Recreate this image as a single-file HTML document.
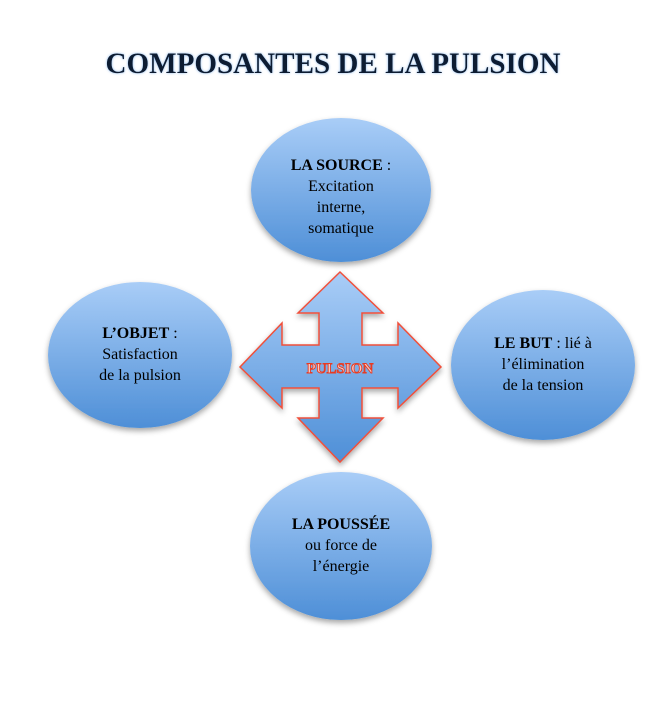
<!DOCTYPE html>
<html><head><style>
body{margin:0;background:#fff;}
svg text{font-family:"Liberation Serif",serif;}
</style></head><body>
<svg width="665" height="714" viewBox="0 0 665 714" xmlns="http://www.w3.org/2000/svg">
<defs>
<linearGradient id="g" x1="0" y1="0" x2="0" y2="1">
<stop offset="0" stop-color="#a9cdf7"/><stop offset="1" stop-color="#4e8fd7"/></linearGradient>
<filter id="s" x="-20%" y="-20%" width="140%" height="140%"><feDropShadow dx="0" dy="3" stdDeviation="3" flood-color="#000" flood-opacity="0.35"/></filter>
<filter id="t"><feDropShadow dx="0" dy="0" stdDeviation="1.2" flood-color="#7aaee8" flood-opacity="0.9"/></filter>
</defs>
<text x="333" y="73" text-anchor="middle" font-size="30" font-weight="bold" fill="#0b1a33" filter="url(#t)" textLength="455" lengthAdjust="spacingAndGlyphs">COMPOSANTES DE LA PULSION</text>
<g filter="url(#s)" fill="url(#g)">
<ellipse cx="341" cy="190" rx="90" ry="72"/>
<ellipse cx="140" cy="355" rx="92" ry="73"/>
<ellipse cx="543" cy="365" rx="92" ry="75"/>
<ellipse cx="341" cy="546" rx="91" ry="74"/>
</g>
<path d="M340 272 L383 313 L362 313 L362 345 L398 345 L398 323 L441 367 L398 408 L398 388 L362 388 L362 418 L383 418 L340 462 L298 418 L319 418 L319 388 L282 388 L282 408 L240 367 L282 323 L282 345 L319 345 L319 313 L298 313 Z" fill="url(#g)" stroke="#f0503a" stroke-width="1.5" filter="url(#s)"/>
<text x="340" y="373" text-anchor="middle" font-size="15" font-weight="bold" fill="#f8c8c0" stroke="#e83a22" stroke-width="0.9">PULSION</text>
<g font-size="16" fill="#000" text-anchor="middle">
<text x="341" y="170"><tspan font-weight="bold">LA SOURCE</tspan> :</text>
<text x="341" y="191">Excitation</text>
<text x="341" y="212">interne,</text>
<text x="341" y="233">somatique</text>
<text x="140" y="338"><tspan font-weight="bold">L’OBJET</tspan> :</text>
<text x="140" y="359">Satisfaction</text>
<text x="140" y="380">de la pulsion</text>
<text x="543" y="348"><tspan font-weight="bold">LE BUT</tspan> : lié à</text>
<text x="543" y="369">l’élimination</text>
<text x="543" y="390">de la tension</text>
<text x="341" y="529" font-weight="bold">LA POUSSÉE</text>
<text x="341" y="550">ou force de</text>
<text x="341" y="571">l’énergie</text>
</g>
</svg>
</body></html>
